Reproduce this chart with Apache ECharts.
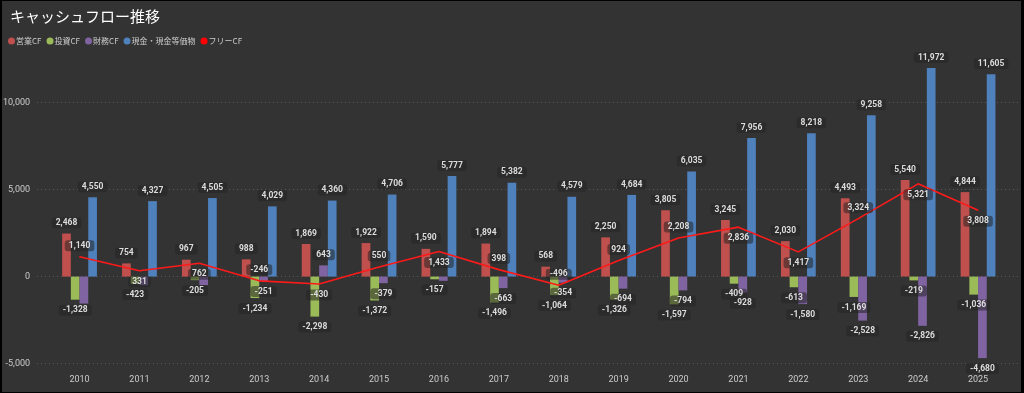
<!DOCTYPE html>
<html>
<head>
<meta charset="utf-8">
<script src="https://cdn.jsdelivr.net/npm/echarts@6/dist/echarts.min.js"></script>
<style>
html,body{margin:0;padding:0;background:#333;}
#wrap{position:relative;width:1024px;height:393px;}
#chart{position:absolute;left:0;top:0;width:1024px;height:393px;}
#frame{position:absolute;left:0;top:0;width:1024px;height:393px;box-sizing:border-box;border-style:solid;border-color:#000;border-width:1px 3px 1px 2px;pointer-events:none;}
</style>
</head>
<body>
<div id="wrap"><div id="chart"></div><div id="frame"></div></div>
<script>
const years = ['2010','2011','2012','2013','2014','2015','2016','2017','2018','2019','2020','2021','2022','2023','2024','2025'];
const operatingCF = [2468,754,967,988,1869,1922,1590,1894,568,2250,3805,3245,2030,4493,5540,4844];
const investingCF = [-1328,-423,-205,-1234,-2298,-1372,-157,-1496,-1064,-1326,-1597,-409,-613,-1169,-219,-1036];
const financingCF = [-1550,-500,-490,-251,643,-379,-245,-663,-354,-694,-794,-928,-1580,-2528,-2826,-4680];
const cashEq = [4550,4327,4505,4029,4360,4706,5777,5382,4579,4684,6035,7956,8218,9258,11972,11605];
const freeCF = [1140,331,762,-246,-430,550,1433,398,-496,924,2208,2836,1417,3324,5321,3808];
const yTicks = [-5000, 0, 5000, 10000];

// label placement (style only)
const finHiddenLabelYears = ['2010','2011','2012','2016'];
const freeLabelPos = ['top','bottom','bottom','top','bottom','top','bottom','top','top','top','top','bottom','bottom','top','bottom','bottom'];

const fmt = v => Number(v).toLocaleString('en-US');
const labelBase = {
  show: true, fontSize: 8.5, fontWeight: 'bold', color: '#dcdcdc',
  fontFamily: 'Roboto, "Noto Sans", sans-serif',
  backgroundColor: 'rgba(36,36,36,0.55)', borderRadius: 3, padding: [1,4],
  distance: 5, formatter: p => fmt(p.value)
};
function barItems(arr, hidden) {
  return arr.map((v, i) => ({
    value: v,
    label: { show: !(hidden && hidden.includes(years[i])), position: v < 0 ? 'bottom' : 'top' }
  }));
}
const Y_MIN = -5000, Y_MAX = 13000;
const chart = echarts.init(document.getElementById('chart'), null, {renderer: 'canvas'});
const barW = 8.7;
const option = {
  backgroundColor: '#333333',
  animation: false,
  title: {
    text: 'キャッシュフロー推移', left: 5, top: 4,
    textStyle: {color: '#ffffff', fontSize: 15, fontWeight: 'normal', fontFamily: '"Noto Sans CJK JP", sans-serif'}
  },
  legend: {
    left: 3, top: 32, icon: 'circle', itemWidth: 7, itemHeight: 7, itemGap: 5,
    textStyle: {color: '#cccccc', fontSize: 8, fontFamily: '"Noto Sans CJK JP", sans-serif', padding: [0,0,0,-4]},
    data: ['営業CF','投資CF','財務CF','現金・現金等価物','フリーCF']
  },
  grid: [
    {left: 49.6, right: 16, top: 50, bottom: 29.3},
    {left: 37, right: 4, top: 50, bottom: 29.3}
  ],
  xAxis: [
    {type: 'category', gridIndex: 0, data: years,
     axisLine: {show: false}, axisTick: {show: false},
     axisLabel: {color: '#cccccc', fontSize: 9, margin: 12, fontFamily: 'Roboto, sans-serif'}},
    {type: 'value', gridIndex: 1, show: false, min: 0, max: 1}
  ],
  yAxis: [
    {type: 'value', gridIndex: 0, min: Y_MIN, max: Y_MAX, interval: 5000, show: false, splitLine: {show: false}},
    {type: 'value', gridIndex: 1, min: Y_MIN, max: Y_MAX, interval: 5000,
     axisLine: {show: false}, axisTick: {show: false},
     axisLabel: {color: '#cccccc', fontSize: 9, margin: 7, showMaxLabel: false, fontFamily: 'Roboto, sans-serif',
                 formatter: v => yTicks.includes(v) ? fmt(v) : ''},
     splitLine: {show: true, showMaxLine: false, lineStyle: {color: '#5a5a5a', type: [1,3], width: 1}}}
  ],
  series: [
    {name: '営業CF', type: 'bar', xAxisIndex: 0, yAxisIndex: 0, barWidth: barW, barGap: '0%',
     itemStyle: {color: '#c0504d'}, label: labelBase, data: barItems(operatingCF)},
    {name: '投資CF', type: 'bar', xAxisIndex: 0, yAxisIndex: 0, barWidth: barW, barGap: '0%',
     itemStyle: {color: '#9bbb59'}, label: labelBase, data: barItems(investingCF)},
    {name: '財務CF', type: 'bar', xAxisIndex: 0, yAxisIndex: 0, barWidth: barW, barGap: '0%',
     itemStyle: {color: '#8064a2'}, label: labelBase, data: barItems(financingCF, finHiddenLabelYears)},
    {name: '現金・現金等価物', type: 'bar', xAxisIndex: 0, yAxisIndex: 0, barWidth: barW, barGap: '0%',
     itemStyle: {color: '#4f81bd'}, label: labelBase, data: barItems(cashEq)},
    {name: 'フリーCF', type: 'line', xAxisIndex: 0, yAxisIndex: 0, symbol: 'circle', symbolSize: 1, showSymbol: true, z: 5,
     itemStyle: {color: '#ff0000'}, lineStyle: {color: '#ff1a1a', width: 1.6},
     label: Object.assign({}, labelBase),
     data: freeCF.map((v, i) => ({value: v, label: {show: true, position: freeLabelPos[i]}}))}
  ]
};
chart.setOption(option);
</script>
</body>
</html>
